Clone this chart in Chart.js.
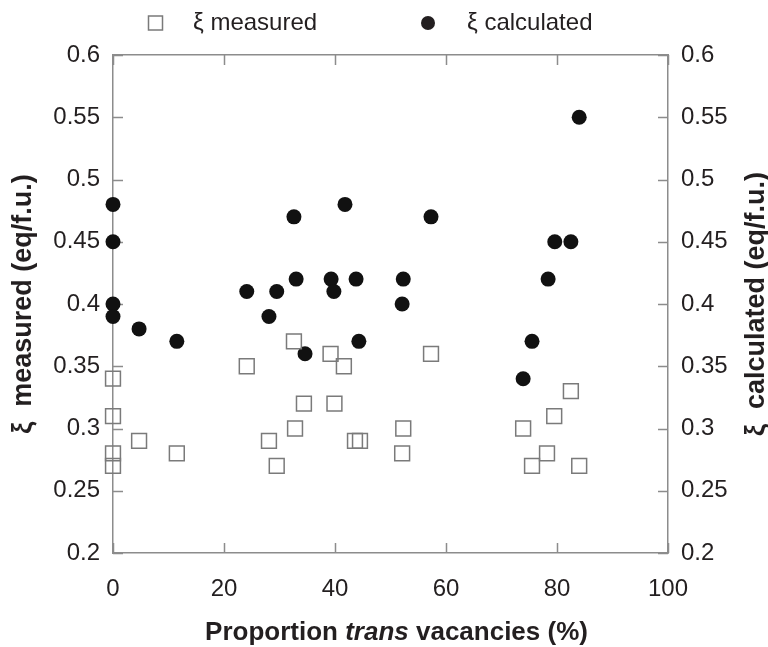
<!DOCTYPE html>
<html>
<head>
<meta charset="utf-8">
<script src="https://cdn.jsdelivr.net/npm/chart.js@4"></script>
<style>
  html, body { margin: 0; padding: 0; background: #fff; overflow: hidden; }
  canvas { display: block; }
</style>
</head>
<body>
<canvas id="xiChart" width="768" height="647"></canvas>
<script>
// Values
const measuredX = [0, 0, 0, 0, 4.7, 11.5, 24.1, 28.1, 29.5, 32.6, 32.8, 34.4, 39.2, 39.9, 41.6, 43.6, 44.5, 52.3, 52.1, 57.3, 73.9, 75.5, 78.2, 79.5, 82.5, 84];
const measuredY = [0.34, 0.31, 0.28, 0.27, 0.29, 0.28, 0.35, 0.29, 0.27, 0.37, 0.30, 0.32, 0.36, 0.32, 0.35, 0.29, 0.29, 0.30, 0.28, 0.36, 0.30, 0.27, 0.28, 0.31, 0.33, 0.27];
const calculatedX = [0, 0, 0, 0, 4.7, 11.5, 24.1, 28.1, 29.5, 32.6, 33, 34.6, 39.3, 39.8, 41.8, 43.8, 44.3, 52.3, 52.1, 57.3, 73.9, 75.5, 78.4, 79.6, 82.5, 84];
const calculatedY = [0.48, 0.45, 0.40, 0.39, 0.38, 0.37, 0.41, 0.39, 0.41, 0.47, 0.42, 0.36, 0.42, 0.41, 0.48, 0.42, 0.37, 0.42, 0.40, 0.47, 0.34, 0.37, 0.42, 0.45, 0.45, 0.55];

const xMin = 0, xMax = 100, xStep = 20;
const yMin = 0.2, yMax = 0.6, yStep = 0.05;

const seriesLabels = ['\u03BE measured', '\u03BE calculated'];
const leftTitle = '\u03BE  measured (eq/f.u.)';
const rightTitle = '\u03BE  calculated (eq/f.u.)';

const FONT = "'Liberation Sans', Arial, sans-serif";
const textColor = '#231f20';
const axisColor = '#8c8c8c';
const squareColor = '#7a7a7a';

function toPoints(xs, ys) {
  return xs.map((x, i) => ({ x: x, y: ys[i] }));
}

// inward tick marks on all four sides
const innerTicks = {
  id: 'innerTicks',
  beforeDatasetsDraw(chart) {
    const { ctx, chartArea: a, scales } = chart;
    const len = 10;
    ctx.save();
    ctx.strokeStyle = axisColor;
    ctx.lineWidth = 1.5;
    ctx.beginPath();
    scales.x.ticks.forEach(t => {
      const px = Math.round(scales.x.getPixelForValue(t.value)) + 0.5;
      ctx.moveTo(px, a.bottom); ctx.lineTo(px, a.bottom - len);
      ctx.moveTo(px, a.top); ctx.lineTo(px, a.top + len);
    });
    scales.y.ticks.forEach(t => {
      const py = Math.round(scales.y.getPixelForValue(t.value)) + 0.5;
      ctx.moveTo(a.left, py); ctx.lineTo(a.left + len, py);
      ctx.moveTo(a.right, py); ctx.lineTo(a.right - len, py);
    });
    ctx.stroke();
    ctx.restore();
  }
};

// legend, x title with italic "trans", right title reading upward
const extraText = {
  id: 'extraText',
  afterDraw(chart) {
    const { ctx, chartArea: a } = chart;
    ctx.save();
    ctx.fillStyle = textColor;
    ctx.textBaseline = 'middle';

    // legend
    const ly = 23;
    ctx.font = '24px ' + FONT;
    ctx.strokeStyle = squareColor;
    ctx.lineWidth = 1.5;
    ctx.strokeRect(148.5, ly - 7, 14, 14);
    ctx.fillText(seriesLabels[0], 193, ly);
    ctx.beginPath();
    ctx.arc(428, ly, 7, 0, Math.PI * 2);
    ctx.fill();
    ctx.fillText(seriesLabels[1], 467, ly);

    // x axis title
    const parts = [
      ['Proportion ', 'bold 26px ' + FONT],
      ['trans', 'italic bold 26px ' + FONT],
      [' vacancies (%)', 'bold 26px ' + FONT]
    ];
    let total = 0;
    parts.forEach(p => { ctx.font = p[1]; total += ctx.measureText(p[0]).width; });
    let tx = (a.left + a.right) / 2 + 6 - total / 2;
    ctx.textAlign = 'left';
    parts.forEach(p => {
      ctx.font = p[1];
      ctx.fillText(p[0], tx, 633);
      tx += ctx.measureText(p[0]).width;
    });

    // right axis title
    ctx.translate(757, (a.top + a.bottom) / 2);
    ctx.rotate(-Math.PI / 2);
    ctx.textAlign = 'center';
    ctx.font = 'bold 27px ' + FONT;
    ctx.fillText(rightTitle, 0, 0);
    ctx.restore();
  }
};

const yTickLabel = v => String(+v.toFixed(2));

new Chart(document.getElementById('xiChart'), {
  type: 'scatter',
  data: {
    datasets: [{
      label: seriesLabels[0],
      data: toPoints(measuredX, measuredY),
      pointStyle: 'rect',
      pointRadius: 10.5,
      pointHoverRadius: 10.5,
      borderColor: squareColor,
      borderWidth: 1.5,
      backgroundColor: 'rgba(0,0,0,0)',
      clip: false,
      yAxisID: 'y'
    }, {
      label: seriesLabels[1],
      data: toPoints(calculatedX, calculatedY),
      pointStyle: 'circle',
      pointRadius: 7.5,
      pointHoverRadius: 7.5,
      borderWidth: 0,
      backgroundColor: '#111111',
      clip: false,
      yAxisID: 'y2'
    }]
  },
  options: {
    responsive: false,
    animation: false,
    events: [],
    layout: { padding: { top: 55, left: 4, right: 40, bottom: 43 } },
    plugins: {
      legend: { display: false },
      tooltip: { enabled: false }
    },
    scales: {
      x: {
        type: 'linear',
        position: 'bottom',
        min: xMin,
        max: xMax,
        afterFit: s => { s.height = 51; },
        ticks: { stepSize: xStep, padding: 22, color: textColor, font: { family: FONT, size: 24 } },
        grid: { drawOnChartArea: false, drawTicks: false },
        border: { color: axisColor, width: 1.5 }
      },
      x2: {
        type: 'linear',
        position: 'top',
        min: xMin,
        max: xMax,
        afterFit: s => { s.height = 0; },
        ticks: { display: false },
        grid: { drawOnChartArea: false, drawTicks: false },
        border: { color: axisColor, width: 1.5 }
      },
      y: {
        type: 'linear',
        position: 'left',
        min: yMin,
        max: yMax,
        afterFit: s => { s.width = 109; },
        ticks: { stepSize: yStep, padding: 13, color: textColor, font: { family: FONT, size: 24 }, callback: yTickLabel },
        grid: { drawOnChartArea: false, drawTicks: false },
        border: { color: axisColor, width: 1.5 },
        title: {
          display: true,
          text: leftTitle,
          color: textColor,
          font: { family: FONT, size: 27, weight: 'bold' },
          padding: { top: 3, bottom: 14 }
        }
      },
      y2: {
        type: 'linear',
        position: 'right',
        min: yMin,
        max: yMax,
        afterFit: s => { s.width = 60; },
        ticks: { stepSize: yStep, padding: 13, color: textColor, font: { family: FONT, size: 24 }, callback: yTickLabel },
        grid: { drawOnChartArea: false, drawTicks: false },
        border: { color: axisColor, width: 1.5 }
      }
    }
  },
  plugins: [innerTicks, extraText]
});
</script>
</body>
</html>
